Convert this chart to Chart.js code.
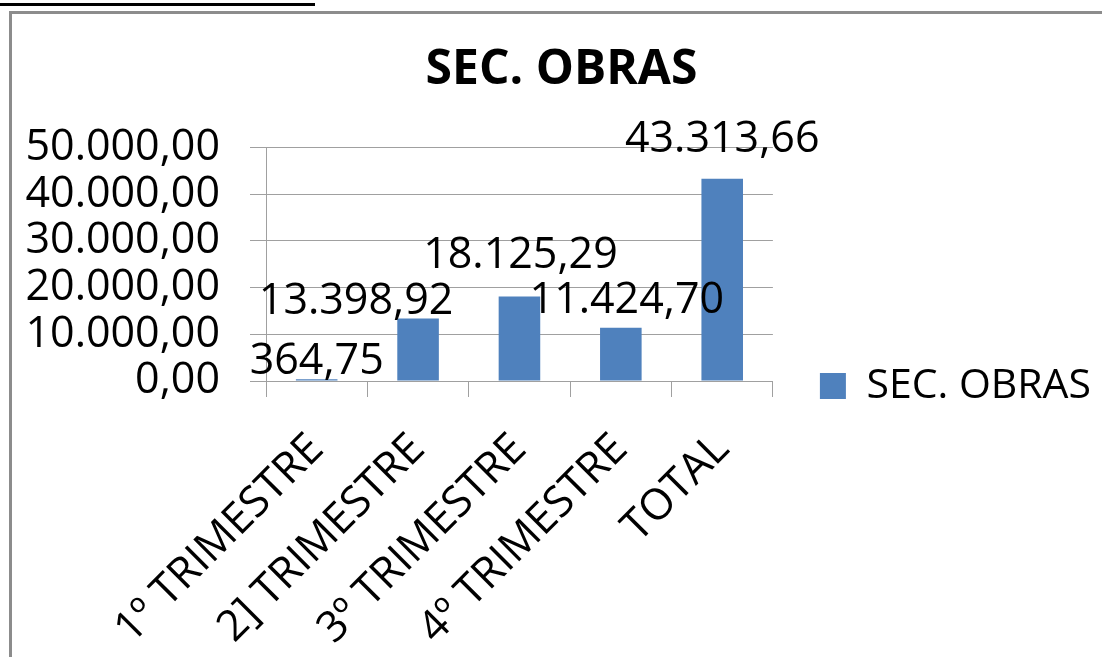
<!DOCTYPE html>
<html>
<head>
<meta charset="utf-8">
<script src="https://cdn.jsdelivr.net/npm/chart.js@4.4.0/dist/chart.umd.min.js"></script>
<style>
  html, body { margin: 0; padding: 0; background: #fff; }
  #page { position: relative; width: 1102px; height: 657px; overflow: hidden; }
  #rule { position: absolute; left: 0; top: 3px; width: 315px; height: 3px; background: #000; }
  #frame { position: absolute; left: 9px; top: 11px; width: 1100px; height: 660px;
           border-left: 3px solid #8c8c8c; border-top: 3px solid #8c8c8c; }
  #box { position: absolute; left: 0; top: 0; width: 1102px; height: 657px; }
</style>
</head>
<body>
<div id="page">
  <div id="rule"></div>
  <div id="frame"></div>
  <div id="box"><canvas id="chart"></canvas></div>
</div>
<script>
// data
const categories = ['1º TRIMESTRE', '2] TRIMESTRE', '3º TRIMESTRE', '4º TRIMESTRE', 'TOTAL'];
const obrasValues = [364.75, 13398.92, 18125.29, 11424.70, 43313.66];
const yTicks = [0, 10000, 20000, 30000, 40000, 50000];

// where each value label sits relative to the top of its bar (x, y)
const labelNudge = [[0, -18], [-62, -17], [1, -41], [6, -27], [0, -39]];

const gridColor = '#a0a0a0';
const barColor = '#4f81bd';
const txtFont = 'Open Sans';

function brl(v) {
  const parts = Number(v).toFixed(2).split('.');
  parts[0] = parts[0].replace(/\B(?=(\d{3})+(?!\d))/g, '.');
  return parts.join(',');
}

const valueLabels = {
  id: 'valueLabels',
  afterDatasetsDraw(chart) {
    const ctx = chart.ctx;
    const meta = chart.getDatasetMeta(0);
    ctx.save();
    ctx.font = '43px "' + txtFont + '"';
    ctx.fillStyle = '#000';
    ctx.textAlign = 'center';
    ctx.textBaseline = 'middle';
    meta.data.forEach(function (bar, i) {
      const n = labelNudge[i];
      ctx.fillText(brl(obrasValues[i]), bar.x + n[0], bar.y + n[1]);
    });
    ctx.restore();
  }
};

// excel puts the legend lower and the title a bit right of where chart.js would
const boxNudge = {
  id: 'boxNudge',
  afterLayout(chart) {
    if (chart.legend) chart.legend.top += 115;
    if (chart.titleBlock) chart.titleBlock.left += 10;
  }
};

new Chart(document.getElementById('chart'), {
  type: 'bar',
  data: {
    labels: categories,
    datasets: [{
      label: 'SEC. OBRAS',
      data: obrasValues,
      backgroundColor: barColor,
      borderWidth: 0,
      barPercentage: 0.41,
      categoryPercentage: 1
    }]
  },
  plugins: [valueLabels, boxNudge],
  options: {
    responsive: true,
    maintainAspectRatio: false,
    animation: false,
    devicePixelRatio: 1,
    layout: { padding: { left: 12, right: 1, top: 0, bottom: 0 } },
    plugins: {
      tooltip: { enabled: false },
      title: {
        display: true,
        text: 'SEC. OBRAS',
        color: '#000',
        font: { family: txtFont, size: 48, weight: 'bold' },
        padding: { top: 42, bottom: 48 }
      },
      legend: {
        position: 'right',
        maxWidth: 400,
        labels: {
          boxWidth: 26,
          boxHeight: 26,
          padding: 47,
          color: '#000',
          font: { family: txtFont, size: 41 }
        }
      }
    },
    scales: {
      x: {
        offset: true,
        grid: { offset: true, drawOnChartArea: false, tickLength: 16, color: gridColor },
        border: { color: gridColor },
        ticks: {
          autoSkip: false,
          minRotation: 45,
          maxRotation: 45,
          padding: 27,
          color: '#000',
          font: { family: txtFont, size: 43 }
        },
        afterFit(s) { s.height = 276; }
      },
      y: {
        min: 0,
        max: 50000,
        grid: { color: gridColor, tickLength: 16 },
        border: { color: gridColor },
        ticks: {
          autoSkip: false,
          padding: 30,
          color: '#000',
          font: { family: txtFont, size: 43 },
          callback: function (v) { return brl(v); }
        },
        afterBuildTicks(s) { s.ticks = yTicks.map(function (v) { return { value: v }; }); },
        afterFit(s) { s.width = 254; }
      }
    }
  }
});
</script>
</body>
</html>
